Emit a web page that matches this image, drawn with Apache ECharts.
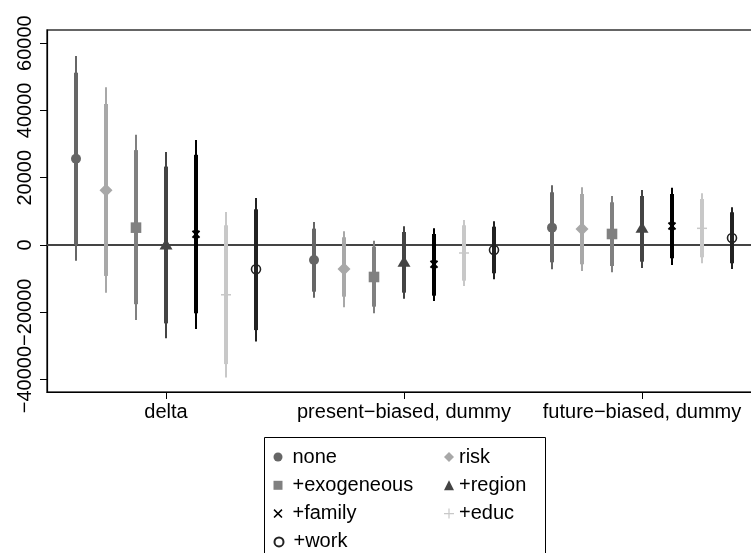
<!DOCTYPE html>
<html>
<head>
<meta charset="utf-8">
<script src="https://cdn.jsdelivr.net/npm/echarts@6/dist/echarts.min.js"></script>
<style>
  html, body { margin: 0; padding: 0; background: #fff; }
  #main { width: 751px; height: 553px; }
</style>
</head>
<body>
<div id="main"></div>
<script>
// outcome groups on the x axis
const groups = ['delta', 'present\u2212biased, dummy', 'future\u2212biased, dummy'];
// control sets (one series each)
const models = ['none', 'risk', '+exogeneous', '+region', '+family', '+educ', '+work'];

// point estimates, rows = models, cols = groups
const estimate = [
  [25650, -4460, 5150],
  [16300, -7130, 4750],
  [5150, -9510, 3270],
  [0, -5150, 4950],
  [3200, -5740, 5650],
  [-14800, -2380, 4950],
  [-7200, -1490, 2080]
];
// 95% interval (thin line)
const ci95Low = [
  [-4700, -15660, -7230],
  [-14200, -18520, -7730],
  [-22300, -20300, -8120],
  [-27700, -15960, -6840],
  [-25000, -16640, -5940],
  [-39400, -12180, -5440],
  [-28700, -10190, -7130]
];
const ci95High = [
  [56200, 6840, 17740],
  [46900, 4070, 17150],
  [32800, 1290, 14560],
  [27600, 5550, 16340],
  [31200, 4950, 17030],
  [9800, 7430, 15360],
  [14000, 7040, 11200]
];
// 90% interval (thick line)
const ci90Low = [
  [100, -13880, -5150],
  [-9200, -15360, -5740],
  [-17600, -18330, -6240],
  [-23300, -14170, -4960],
  [-20300, -15070, -3950],
  [-35400, -10610, -3660],
  [-25300, -8410, -5440]
];
const ci90High = [
  [51200, 4850, 15660],
  [41900, 2290, 15160],
  [28200, -500, 12690],
  [23300, 3860, 14560],
  [26800, 3270, 15160],
  [5850, 5850, 13670],
  [10600, 5440, 9720]
];
const yTicks = [-40000, -20000, 0, 20000, 40000, 60000];

const colors = ['#666666', '#a8a8a8', '#808080', '#444444', '#000000', '#c8c8c8', '#222222'];
const markers = ['circle', 'diamond', 'square', 'triangle', 'cross', 'plus', 'hollow'];
const legendIcons = [
  'circle',
  'diamond',
  'rect',
  'triangle',
  'path://M0,1.2L1.2,0L5,3.8L8.8,0L10,1.2L6.2,5L10,8.8L8.8,10L5,6.2L1.2,10L0,8.8L3.8,5Z',
  'path://M4.4,0H5.6V4.4H10V5.6H5.6V10H4.4V5.6H0V4.4H4.4Z',
  'emptyCircle'
];
const step = 30 / 238; // spacing between models inside a group (axis units)
const font = "'Liberation Sans', Arial, sans-serif";

function drawMarker(kind, c, color) {
  const x = c[0], y = c[1];
  switch (kind) {
    case 'circle':
      return { type: 'circle', shape: { cx: x, cy: y, r: 5 }, style: { fill: color } };
    case 'diamond':
      return { type: 'polygon', shape: { points: [[x, y - 6.5], [x + 6.5, y], [x, y + 6.5], [x - 6.5, y]] }, style: { fill: color } };
    case 'square':
      return { type: 'rect', shape: { x: x - 5.3, y: y - 5.3, width: 10.6, height: 10.6 }, style: { fill: color } };
    case 'triangle':
      return { type: 'polygon', shape: { points: [[x, y - 6.5], [x + 6.5, y + 4.5], [x - 6.5, y + 4.5]] }, style: { fill: color } };
    case 'cross':
      return { type: 'group', children: [
        { type: 'line', shape: { x1: x - 3.5, y1: y - 3.5, x2: x + 3.5, y2: y + 3.5 }, style: { stroke: color, lineWidth: 2 } },
        { type: 'line', shape: { x1: x + 3.5, y1: y - 3.5, x2: x - 3.5, y2: y + 3.5 }, style: { stroke: color, lineWidth: 2 } }
      ] };
    case 'plus':
      return { type: 'line', shape: { x1: x - 5, y1: y, x2: x + 5, y2: y }, style: { stroke: color, lineWidth: 1.5 } };
    default:
      return { type: 'circle', shape: { cx: x, cy: y, r: 4.5 }, style: { fill: 'none', stroke: color, lineWidth: 1.6 } };
  }
}

const series = models.map(function (name, m) {
  const rows = groups.map(function (g, k) {
    return [k + 0.5 + (m - 3) * step, estimate[m][k], ci95Low[m][k], ci95High[m][k], ci90Low[m][k], ci90High[m][k]];
  });
  const s = {
    name: name,
    type: 'custom',
    itemStyle: { color: colors[m] },
    encode: { x: 0, y: 1 },
    data: rows,
    z: 3,
    renderItem: function (params, api) {
      const x = api.value(0);
      const p = api.coord([x, api.value(1)]);
      const l95 = api.coord([x, api.value(2)]);
      const h95 = api.coord([x, api.value(3)]);
      const l90 = api.coord([x, api.value(4)]);
      const h90 = api.coord([x, api.value(5)]);
      return {
        type: 'group',
        children: [
          { type: 'line', shape: { x1: l95[0], y1: l95[1], x2: h95[0], y2: h95[1] }, style: { stroke: colors[m], lineWidth: 2 } },
          { type: 'line', shape: { x1: l90[0], y1: l90[1], x2: h90[0], y2: h90[1] }, style: { stroke: colors[m], lineWidth: 4 } },
          drawMarker(markers[m], p, colors[m])
        ]
      };
    }
  };
  if (m === 0) {
    s.markLine = {
      silent: true,
      symbol: 'none',
      label: { show: false },
      lineStyle: { color: '#444', width: 2, type: 'solid' },
      data: [{ yAxis: 0 }],
      z: 1
    };
  }
  return s;
});

function legendData(idx) {
  return idx.map(function (m) {
    return { name: models[m], icon: legendIcons[m], itemStyle: { color: colors[m], borderColor: colors[m] } };
  });
}

// one legend per column piece, so nothing wraps at the page edge
function legendBlock(idx, left, top, textPad, size) {
  return {
    data: legendData(idx),
    orient: 'vertical',
    left: left,
    top: top,
    padding: 0,
    itemWidth: size,
    itemHeight: size,
    itemGap: 8.3,
    textStyle: { fontSize: 20, lineHeight: 20, color: '#000', fontFamily: font, padding: [0, 0, 0, textPad] }
  };
}

const chart = echarts.init(document.getElementById('main'));
chart.setOption({
  animation: false,
  textStyle: { fontFamily: font },
  grid: {
    left: 47, top: 30, bottom: 161, right: -10,
    show: true, borderColor: '#333', borderWidth: 1.5,
    outerBoundsMode: 'none'
  },
  xAxis: {
    type: 'value',
    min: 0,
    max: 3,
    splitLine: { show: false },
    axisLine: { show: true, onZero: false, lineStyle: { color: '#000', width: 1.2 } },
    axisTick: { show: true, length: 7, customValues: [0.5, 1.5, 2.5], lineStyle: { color: '#000' } },
    axisLabel: {
      customValues: [0.5, 1.5, 2.5],
      margin: 10,
      fontSize: 20,
      fontFamily: font,
      color: '#000',
      formatter: function (v) { return groups[Math.floor(v)]; }
    }
  },
  yAxis: {
    type: 'value',
    min: -43700,
    max: 63900,
    splitLine: { show: false },
    axisLine: { show: true, lineStyle: { color: '#000', width: 1.2 } },
    axisTick: { show: true, length: 7, customValues: yTicks, lineStyle: { color: '#000' } },
    axisLabel: {
      customValues: yTicks,
      rotate: 90,
      margin: 12,
      fontSize: 20,
      fontFamily: font,
      color: '#000',
      formatter: function (v) { return v < 0 ? '\u2212' + Math.abs(v) : String(v); }
    }
  },
  legend: [
    legendBlock([0, 2, 4], 273.5, 447, 5, 9),
    legendBlock([6], 273.5, 447 + 3 * 28.3, 5, 9),
    legendBlock([1, 3, 5], 444, 447, 0, 10)
  ],
  graphic: [
    {
      type: 'rect',
      shape: { x: 264.5, y: 437.5, width: 281, height: 130 },
      style: { fill: 'none', stroke: '#000', lineWidth: 1 },
      silent: true
    }
  ],
  series: series
});
</script>
</body>
</html>
